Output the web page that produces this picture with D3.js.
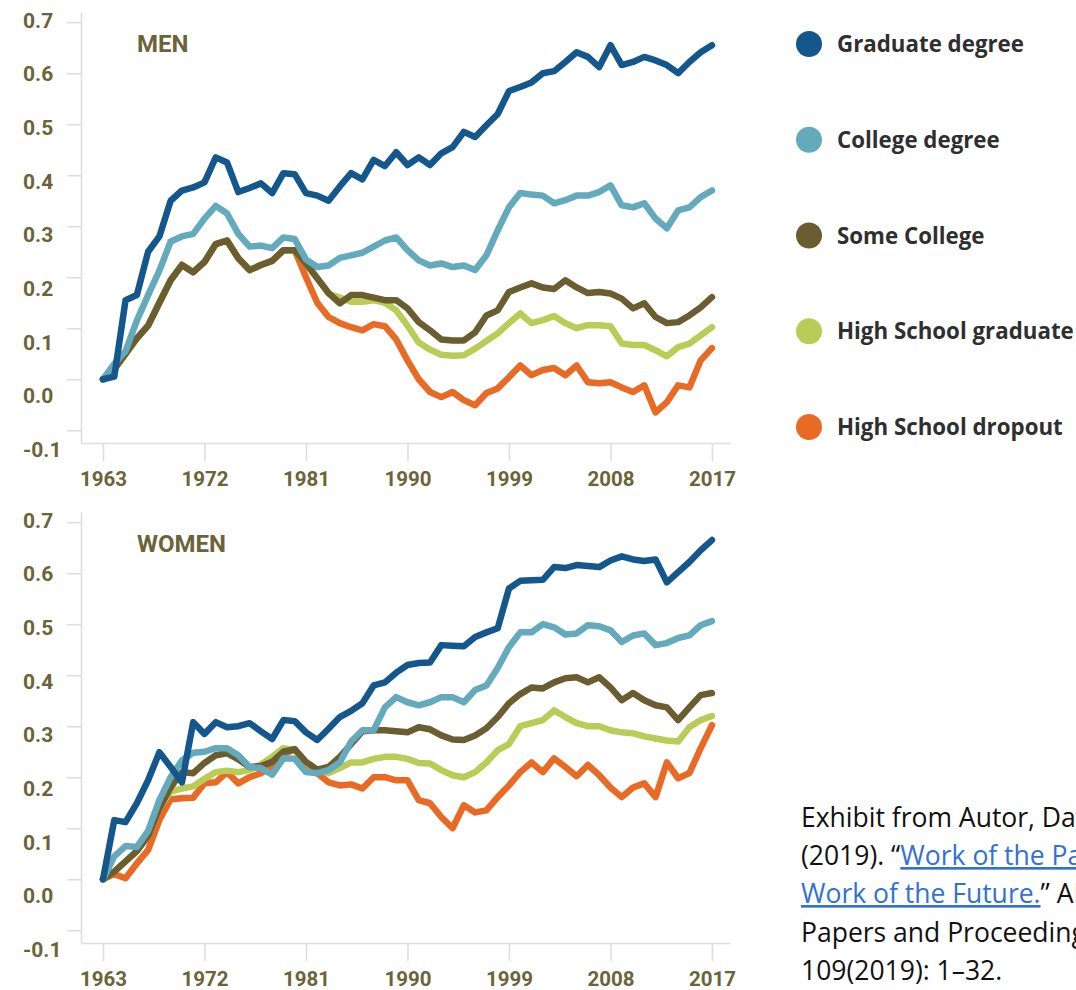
<!DOCTYPE html>
<html>
<head>
<meta charset="utf-8">
<script src="https://cdn.jsdelivr.net/npm/d3@7"></script>
<style>
  body { margin: 0; background: #fff; }
  svg { display: block; }
</style>
</head>
<body>
<div id="chart"></div>
<script>
// years on the x axis, one value per year for every series
var years = [1963, 1964, 1965, 1966, 1967, 1968, 1969, 1970, 1971, 1972,
  1973, 1974, 1975, 1976, 1977, 1978, 1979, 1980, 1981, 1982,
  1983, 1984, 1985, 1986, 1987, 1988, 1989, 1990, 1991, 1992,
  1993, 1994, 1995, 1996, 1997, 1998, 1999, 2000, 2001, 2002,
  2003, 2004, 2005, 2006, 2007, 2008, 2009, 2010, 2011, 2012,
  2013, 2014, 2015, 2016, 2017];

var xTicks = [1963, 1972, 1981, 1990, 1999, 2008, 2017];
var yTicks = [-0.1, 0, 0.1, 0.2, 0.3, 0.4, 0.5, 0.6, 0.7];
var yTickLabels = ["-0.1", "0.0", "0.1", "0.2", "0.3", "0.4", "0.5", "0.6", "0.7"];

var legendLabels = ["Graduate degree", "College degree", "Some College", "High School graduate", "High School dropout"];
var lineColors = ["#14578d", "#63aabd", "#6a5d30", "#b9cc56", "#e86a25"];

// MEN
var menGraduate = [0.000, 0.005, 0.155, 0.165, 0.250, 0.280, 0.350, 0.370, 0.376, 0.386,
  0.435, 0.425, 0.367, 0.375, 0.384, 0.365, 0.404, 0.402, 0.365, 0.360,
  0.350, 0.378, 0.404, 0.392, 0.430, 0.418, 0.445, 0.420, 0.435, 0.420,
  0.443, 0.455, 0.485, 0.475, 0.498, 0.520, 0.565, 0.573, 0.582, 0.600,
  0.604, 0.622, 0.641, 0.632, 0.612, 0.655, 0.616, 0.622, 0.632, 0.625,
  0.616, 0.600, 0.622, 0.641, 0.655];
var menCollege = [0.000, 0.030, 0.055, 0.115, 0.165, 0.213, 0.270, 0.280, 0.285, 0.315,
  0.340, 0.325, 0.285, 0.260, 0.262, 0.257, 0.278, 0.275, 0.235, 0.220,
  0.223, 0.238, 0.243, 0.248, 0.260, 0.272, 0.278, 0.253, 0.233, 0.223,
  0.227, 0.220, 0.223, 0.214, 0.243, 0.292, 0.337, 0.365, 0.362, 0.360,
  0.345, 0.351, 0.360, 0.360, 0.367, 0.380, 0.341, 0.337, 0.345, 0.315,
  0.296, 0.331, 0.337, 0.357, 0.370];
var menSomeCollege = [0.000, 0.020, 0.050, 0.080, 0.105, 0.150, 0.194, 0.224, 0.210, 0.230,
  0.265, 0.272, 0.237, 0.214, 0.224, 0.232, 0.253, 0.253, 0.227, 0.198,
  0.169, 0.149, 0.165, 0.165, 0.160, 0.155, 0.155, 0.139, 0.112, 0.096,
  0.078, 0.076, 0.076, 0.092, 0.125, 0.135, 0.171, 0.180, 0.188, 0.180,
  0.177, 0.194, 0.180, 0.169, 0.171, 0.168, 0.158, 0.139, 0.149, 0.122,
  0.110, 0.112, 0.125, 0.141, 0.161];
var menHSGrad = [0.000, 0.020, 0.050, 0.080, 0.105, 0.150, 0.194, 0.224, 0.210, 0.230,
  0.265, 0.272, 0.237, 0.214, 0.224, 0.232, 0.253, 0.253, 0.227, 0.198,
  0.168, 0.160, 0.152, 0.152, 0.155, 0.150, 0.135, 0.105, 0.072, 0.058,
  0.048, 0.046, 0.047, 0.060, 0.075, 0.090, 0.110, 0.129, 0.110, 0.116,
  0.124, 0.110, 0.100, 0.106, 0.106, 0.104, 0.070, 0.067, 0.067, 0.057,
  0.045, 0.063, 0.070, 0.086, 0.102];
var menDropout = [0.000, 0.020, 0.050, 0.080, 0.105, 0.150, 0.194, 0.224, 0.210, 0.230,
  0.265, 0.272, 0.237, 0.214, 0.224, 0.232, 0.253, 0.253, 0.200, 0.150,
  0.122, 0.110, 0.102, 0.096, 0.108, 0.104, 0.078, 0.037, 0.000, -0.025,
  -0.035, -0.025, -0.041, -0.051, -0.027, -0.018, 0.004, 0.027, 0.008, 0.018,
  0.022, 0.008, 0.027, -0.006, -0.008, -0.006, -0.016, -0.025, -0.012, -0.065,
  -0.045, -0.012, -0.016, 0.037, 0.061];

// WOMEN
var womenGraduate = [0.000, 0.116, 0.112, 0.149, 0.194, 0.249, 0.220, 0.190, 0.308, 0.285,
  0.308, 0.298, 0.300, 0.306, 0.290, 0.275, 0.312, 0.310, 0.288, 0.273,
  0.295, 0.318, 0.330, 0.345, 0.380, 0.386, 0.405, 0.420, 0.424, 0.425,
  0.459, 0.458, 0.457, 0.475, 0.484, 0.492, 0.570, 0.585, 0.586, 0.587,
  0.612, 0.610, 0.616, 0.614, 0.612, 0.625, 0.633, 0.627, 0.624, 0.627,
  0.582, 0.602, 0.622, 0.645, 0.665];
var womenCollege = [0.000, 0.045, 0.065, 0.063, 0.095, 0.155, 0.200, 0.233, 0.248, 0.250,
  0.257, 0.257, 0.243, 0.220, 0.218, 0.205, 0.237, 0.236, 0.210, 0.208,
  0.214, 0.229, 0.270, 0.292, 0.292, 0.337, 0.357, 0.347, 0.341, 0.347,
  0.357, 0.357, 0.347, 0.371, 0.380, 0.414, 0.455, 0.484, 0.484, 0.500,
  0.494, 0.480, 0.482, 0.498, 0.496, 0.488, 0.465, 0.478, 0.482, 0.459,
  0.463, 0.473, 0.478, 0.498, 0.506];
var womenSomeCollege = [0.000, 0.015, 0.035, 0.055, 0.085, 0.140, 0.180, 0.210, 0.208, 0.228,
  0.243, 0.247, 0.235, 0.220, 0.222, 0.230, 0.250, 0.255, 0.230, 0.215,
  0.220, 0.240, 0.265, 0.290, 0.292, 0.292, 0.290, 0.288, 0.298, 0.294,
  0.282, 0.274, 0.273, 0.282, 0.296, 0.318, 0.345, 0.363, 0.376, 0.374,
  0.386, 0.394, 0.396, 0.386, 0.396, 0.376, 0.351, 0.365, 0.351, 0.341,
  0.337, 0.312, 0.337, 0.361, 0.365];
var womenHSGrad = [0.000, 0.015, 0.035, 0.055, 0.085, 0.140, 0.172, 0.178, 0.182, 0.197,
  0.210, 0.213, 0.210, 0.214, 0.225, 0.240, 0.257, 0.253, 0.229, 0.214,
  0.208, 0.218, 0.229, 0.229, 0.236, 0.240, 0.240, 0.236, 0.228, 0.227,
  0.214, 0.204, 0.200, 0.210, 0.229, 0.253, 0.265, 0.300, 0.306, 0.312,
  0.331, 0.318, 0.306, 0.300, 0.300, 0.292, 0.288, 0.286, 0.280, 0.276,
  0.272, 0.270, 0.298, 0.312, 0.320];
var womenDropout = [0.000, 0.010, 0.002, 0.031, 0.057, 0.116, 0.157, 0.159, 0.160, 0.188,
  0.190, 0.210, 0.188, 0.200, 0.208, 0.220, 0.245, 0.255, 0.227, 0.208,
  0.190, 0.184, 0.186, 0.178, 0.200, 0.200, 0.194, 0.194, 0.155, 0.149,
  0.122, 0.100, 0.145, 0.131, 0.135, 0.161, 0.184, 0.210, 0.229, 0.210,
  0.237, 0.220, 0.202, 0.224, 0.204, 0.180, 0.161, 0.180, 0.188, 0.161,
  0.229, 0.198, 0.208, 0.257, 0.302];

var axisColor = "#dedede";
var labelColor = "#6b6439";

var svgWidth = 1076;
var svgHeight = 990;

var svg = d3.select("#chart")
  .append("svg")
  .attr("width", svgWidth)
  .attr("height", svgHeight);

// one panel = axes + five lines, shifted down by 'top'
function drawPanel(title, series, top) {
  var g = svg.append("g")
    .attr("transform", `translate(0, ${top})`);

  var xScale = d3.scaleLinear()
    .domain([1961.05, 2018.6])
    .range([81, 730]);

  var yScale = d3.scaleLinear()
    .domain([-0.125, 0.72])
    .range([443, 12]);

  // the tick labels in the picture sit on their own (slightly wider) spacing
  var labelScale = d3.scaleLinear()
    .domain([-0.1, 0.7])
    .range([449.5, 20.3]);

  var yAxis = d3.axisLeft(yScale)
    .tickValues(yTicks)
    .tickSize(14)
    .tickSizeOuter(0)
    .tickFormat("");

  var xAxis = d3.axisBottom(xScale)
    .tickValues(xTicks)
    .tickSize(18)
    .tickSizeOuter(0)
    .tickFormat(d3.format("d"));

  var yG = g.append("g")
    .attr("transform", "translate(81, 0)")
    .call(yAxis);

  var xG = g.append("g")
    .attr("transform", "translate(0, 443)")
    .call(xAxis);

  g.selectAll(".domain, .tick line")
    .attr("stroke", axisColor)
    .attr("stroke-width", 1.6);

  xG.selectAll("text")
    .attr("y", 35.5)
    .attr("dy", "0.35em")
    .attr("fill", labelColor)
    .style("font-family", "Roboto, sans-serif")
    .style("font-weight", 700)
    .style("font-size", "20.5px");

  g.selectAll(".ylabel")
    .data(yTicks)
    .enter()
    .append("text")
    .attr("class", "ylabel")
    .attr("x", 23)
    .attr("y", d => labelScale(d))
    .attr("dy", "0.35em")
    .attr("fill", labelColor)
    .style("font-family", "Roboto, sans-serif")
    .style("font-weight", 700)
    .style("font-size", "21px")
    .text((d, i) => yTickLabels[i]);

  g.append("text")
    .attr("x", 137)
    .attr("y", 52)
    .attr("fill", labelColor)
    .style("font-family", "Roboto, sans-serif")
    .style("font-weight", 700)
    .style("font-size", "24px")
    .text(title);

  var line = d3.line()
    .x((d, i) => xScale(years[i]))
    .y(d => yScale(d));

  // draw dropout first so graduate degree ends up on top
  for (var k = series.length - 1; k >= 0; k--) {
    g.append("path")
      .datum(series[k])
      .attr("fill", "none")
      .attr("stroke", lineColors[k])
      .attr("stroke-width", 6.5)
      .attr("stroke-linejoin", "round")
      .attr("stroke-linecap", "round")
      .attr("d", line);
  }
}

drawPanel("MEN", [menGraduate, menCollege, menSomeCollege, menHSGrad, menDropout], 0);
drawPanel("WOMEN", [womenGraduate, womenCollege, womenSomeCollege, womenHSGrad, womenDropout], 500);

// legend
var legendY = d3.scalePoint()
  .domain(legendLabels)
  .range([44, 427]);

var legend = svg.selectAll(".legend")
  .data(legendLabels)
  .enter()
  .append("g")
  .attr("class", "legend")
  .attr("transform", d => `translate(809, ${legendY(d)})`);

legend.append("circle")
  .attr("r", 13)
  .attr("fill", (d, i) => lineColors[i]);

legend.append("text")
  .attr("x", 28)
  .attr("dy", "0.36em")
  .attr("fill", "#2f2f2f")
  .style("font-family", "'Open Sans', sans-serif")
  .style("font-weight", 700)
  .style("font-size", "22.3px")
  .text(d => d);

// source note (runs off the right edge like the original)
var noteFont = "'Open Sans', sans-serif";
var linkColor = "#3270d6";
var note = svg.append("g")
  .style("font-family", noteFont)
  .style("font-size", "26.5px")
  .attr("fill", "#111");

note.append("text").attr("x", 801).attr("y", 827)
  .text("Exhibit from Autor, David");

var l2 = note.append("text").attr("x", 801).attr("y", 865);
l2.append("tspan").text("(2019). \u201C");
l2.append("tspan").attr("fill", linkColor).style("text-decoration", "underline").text("Work of the Past,");

var l3 = note.append("text").attr("x", 801).attr("y", 903);
l3.append("tspan").attr("fill", linkColor).style("text-decoration", "underline").text("Work of the Future.");
l3.append("tspan").text("\u201D AEA");

note.append("text").attr("x", 801).attr("y", 942)
  .text("Papers and Proceedings");

note.append("text").attr("x", 801).attr("y", 980)
  .text("109(2019): 1\u201332.");
</script>
</body>
</html>
